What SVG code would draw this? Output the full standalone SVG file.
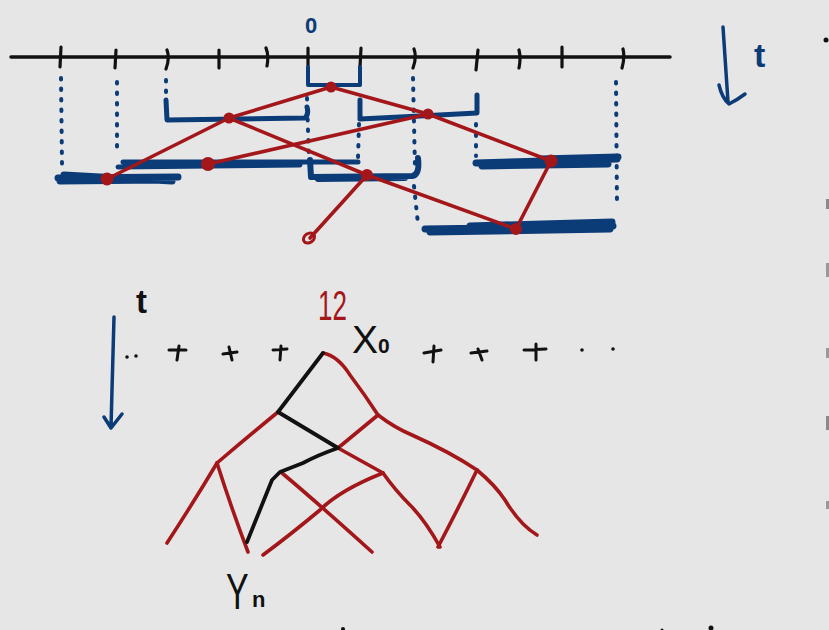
<svg xmlns="http://www.w3.org/2000/svg" width="829" height="630" viewBox="0 0 829 630">
<style>
.bk{stroke:#111;fill:none;stroke-linecap:round;stroke-linejoin:round}
.bl{stroke:#0c3c78;fill:none;stroke-linecap:round;stroke-linejoin:round}
.dot{stroke:#0c3c78;fill:none;stroke-linecap:round;stroke-width:4;stroke-dasharray:1.5 9}
.rd{stroke:#a3171b;fill:none;stroke-linecap:round;stroke-linejoin:round;stroke-width:3.6}
.rdot{fill:#a3171b}
.hand{font-family:"Liberation Sans",Arial,sans-serif}
</style>
<rect x="0" y="0" width="829" height="630" fill="#e6e6e6"/>

<g id="axis">
<path class="bk" stroke-width="3.5" d="M11 57 L670 57"/>
<path class="bk" stroke-width="3.2" d="M61 47 L60 67 M116 50 L115 68 M167 50 Q170 58 166 69 M219 50 L219 68 M266 48 Q269 55 267 66 M308 48 L308 66 M361 48 L360 67 M414 49 Q417 57 413 68 M478 50 L476 70 M519 50 Q521 58 519 68 M562 47 L562 67 M623 49 Q625 57 622 68"/>
<text class="hand" x="305" y="33" font-size="22" font-weight="bold" fill="#0c3c78">0</text>
</g>

<g id="dotted-guides">
<path class="dot" d="M61 78 L62 164 M117 82 L117 152 M166 80 L166 100 M307 98 L309 162 M359 124 L358 158 M413 78 L415 168 M414 186 L418 224 M476 124 L476 156 M616 82 L617 206"/>
</g>

<g id="intervals">
<path class="bl" stroke-width="4" d="M308 67 L308 85 L360 85 L360 67"/>
<path class="bl" stroke-width="5" d="M166 100 L167 120 L305 118 Q309 114 307 107"/>
<path class="bl" stroke-width="5" d="M360 100 L360 119 L420 116 L477 113 L477 95"/>
<path class="bl" stroke-width="5" d="M123 162 L358 162 M118 167 L300 165"/>
<path class="bl" stroke-width="7" d="M58 178 L178 177 M64 175 L172 181 M60 181 L160 180"/>
<path class="bl" stroke-width="6" d="M310 160 L311 177 L412 176 Q420 175 418 158 M318 179 L405 178"/>
<path class="bl" stroke-width="7" d="M476 163 L617 159 M482 166 L608 164 M540 159 L618 157"/>
<path class="bl" stroke-width="7" d="M425 229 L613 226 M430 232 L610 229 M470 226 L612 222"/>
</g>

<g id="red-links">
<path class="rd" d="M107 179 L229 118 L331 87 L428 114 L551 161 L516 229"/>
<path class="rd" d="M229 118 L367 175 L516 229"/>
<path class="rd" d="M208 164 L428 114"/>
<path class="rd" d="M367 175 L310 238"/>
<ellipse cx="309" cy="238" rx="6" ry="4.5" transform="rotate(-35 309 238)" fill="none" stroke="#a3171b" stroke-width="3"/>
<circle class="rdot" cx="331" cy="87" r="5.5"/>
<circle class="rdot" cx="229" cy="118" r="5.5"/>
<circle class="rdot" cx="428" cy="114" r="5.5"/>
<circle class="rdot" cx="208" cy="164" r="7"/>
<circle class="rdot" cx="107" cy="179" r="6.5"/>
<circle class="rdot" cx="367" cy="175" r="6"/>
<circle class="rdot" cx="551" cy="161" r="6.5"/>
<circle class="rdot" cx="516" cy="229" r="6"/>
</g>

<g id="t-arrow-top">
<path class="bl" stroke-width="3.5" d="M723 27 L728 102 M719 85 Q722 98 729 104 Q737 100 745 94"/>
<text class="hand" x="754" y="67" font-size="34" font-weight="bold" fill="#0c3c78">t</text>
</g>

<g id="t-arrow-bottom">
<path class="bl" stroke-width="3.5" d="M114 317 L111 427 M104 417 L111 428 L122 414"/>
<text class="hand" x="136" y="313" font-size="33" font-weight="bold" fill="#111">t</text>
</g>

<g id="points-row">
<circle cx="127" cy="357" r="1.8" fill="#111"/>
<circle cx="136" cy="356" r="1.8" fill="#111"/>
<path class="bk" stroke-width="3" d="M169 350 L186 350 M179 346 L177 360 M223 354 L237 352 M229 347 L232 360 M273 350 L287 349 M281 346 L280 360 M424 353 L441 350 M434 346 L433 362 M471 353 L487 351 M478 349 L482 360 M524 350 L546 349 M536 344 L536 360"/>
<circle cx="582" cy="350" r="1.8" fill="#111"/>
<circle cx="613" cy="349" r="1.8" fill="#111"/>
</g>

<g id="labels-bottom">
<text class="hand" transform="translate(318 320) scale(0.62 1)" font-size="42" fill="#a3171b">12</text>
<text class="hand" x="352" y="353" font-size="39" fill="#111">X<tspan font-size="21" font-weight="bold">0</tspan></text>
<text class="hand" transform="translate(226 609) scale(0.68 1)" font-size="50" fill="#111">Y</text>
<text class="hand" x="252" y="607" font-size="22" font-weight="bold" fill="#111">n</text>
</g>

<g id="tree">
<path class="rd" d="M323 353 Q338 356 350 375 Q365 395 378 415"/>
<path class="rd" d="M278 412 Q250 435 217 463"/>
<path class="rd" stroke-width="5.5" d="M338 448 L378 415"/>
<path class="rd" d="M378 415 Q395 428 412 435 Q450 452 477 470"/>
<path class="rd" d="M338 448 L383 473"/>
<path class="rd" d="M383 473 Q395 490 410 505 Q425 520 440 547"/>
<path class="rd" d="M383 473 Q340 490 320 510 Q290 535 263 555"/>
<path class="rd" d="M282 473 Q320 505 372 552"/>
<path class="rd" d="M217 463 Q195 500 167 543"/>
<path class="rd" d="M217 463 Q232 510 248 552"/>
<path class="rd" d="M477 470 Q460 505 438 547"/>
<path class="rd" d="M477 470 Q495 485 505 500 Q520 525 537 535"/>
<path class="bk" stroke-width="3.8" d="M323 353 L278 412 L338 448 Q318 455 303 463 L280 472 L272 480 L247 542"/>
</g>

<g id="edge-marks">
<circle cx="826" cy="40" r="2.5" fill="#111"/>
<rect x="826" y="199" width="3" height="10" fill="#8a8a8a"/>
<rect x="826" y="263" width="3" height="14" fill="#999"/>
<rect x="826" y="348" width="3" height="10" fill="#999"/>
<rect x="826" y="416" width="3" height="14" fill="#8a8a8a"/>
<rect x="826" y="501" width="3" height="8" fill="#999"/>
<circle cx="343" cy="629" r="2" fill="#111"/>
<circle cx="662" cy="630" r="1.5" fill="#111"/>
<circle cx="711" cy="628" r="2.5" fill="#111"/>
</g>
</svg>
